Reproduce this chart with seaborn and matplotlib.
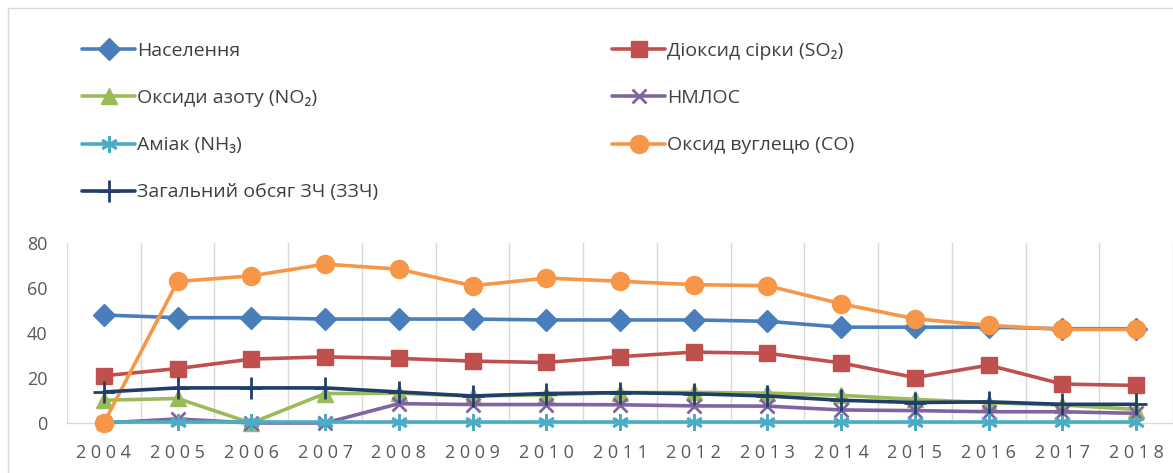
import matplotlib
matplotlib.use("Agg")
import matplotlib.pyplot as plt
from matplotlib.lines import Line2D
from matplotlib.patches import Rectangle
import seaborn as sns
import numpy as np

sns.set_theme(style="white")
plt.rcParams['font.family'] = ['Open Sans', 'DejaVu Sans']

years = ["2004", "2005", "2006", "2007", "2008", "2009", "2010", "2011",
         "2012", "2013", "2014", "2015", "2016", "2017", "2018"]

naselennia = [48.0, 46.8, 46.8, 46.2, 46.2, 46.2, 45.8, 45.8, 45.8, 45.2, 42.6, 42.6, 42.6, 41.9, 41.9]
so2 = [21.0, 24.2, 28.4, 29.4, 28.7, 27.5, 26.9, 29.5, 31.5, 31.0, 26.7, 20.2, 25.7, 17.3, 16.7]
no2 = [10.1, 10.9, 0.0, 13.1, 13.2, 12.0, 12.5, 13.5, 13.6, 13.3, 12.3, 10.5, 9.0, 8.0, 6.0]
nmlos = [0.0, 1.8, 0.0, 0.0, 8.6, 8.2, 8.2, 8.1, 7.6, 7.5, 5.8, 5.5, 5.0, 5.0, 4.3]
nh3 = [0.4, 0.4, 0.4, 0.4, 0.4, 0.4, 0.4, 0.4, 0.4, 0.4, 0.4, 0.4, 0.4, 0.4, 0.4]
co = [0.0, 62.9, 65.4, 70.6, 68.4, 61.0, 64.4, 63.0, 61.5, 61.0, 53.0, 46.3, 43.4, 41.6, 41.6]
total = [13.8, 15.6, 15.6, 15.6, 13.8, 12.0, 13.1, 13.5, 13.0, 12.0, 10.1, 9.1, 9.4, 8.3, 8.3]

labels = ["Населення", "Діоксид сірки (SO₂)", "Оксиди азоту (NO₂)", "НМЛОС",
          "Аміак (NH₃)", "Оксид вуглецю (CO)", "Загальний обсяг ЗЧ (ЗЗЧ)"]
series = [naselennia, so2, no2, nmlos, nh3, co, total]
colors = ["#4A7EBB", "#C0504D", "#9BBB59", "#8064A2", "#4BACC6", "#F79646", "#1F3F6A"]
markers = ["D", "s", "^", "x", (6, 2, 0), "o", "+"]
msizes = [11, 12, 11, 10, 12, 13, 16]
mews = [1, 1, 1, 2, 2, 1, 2]

W, H = 1173, 473
fig = plt.figure(figsize=(W / 100, H / 100), dpi=100)
fig.patch.set_facecolor("white")
ax = fig.add_axes([67 / W, (H - 423) / H, 1 - 67 / W, 180 / H])

x = np.arange(len(years))
for vals, lab, c, m, ms, mew in zip(series, labels, colors, markers, msizes, mews):
    sns.lineplot(x=x, y=vals, ax=ax, color=c, linewidth=2.6, marker=m,
                 markersize=ms, markeredgewidth=mew, markeredgecolor=c,
                 legend=False, clip_on=False, zorder=3)

ax.set_xlim(-0.5, 14.37)
ax.set_ylim(0, 80)
ax.set_yticks([0, 20, 40, 60, 80])
ax.set_yticklabels(["0", "20", "40", "60", "80"], fontsize=13, color="#595959")
ax.set_xticks(x)
ax.set_xticklabels([" ".join(y) for y in years], fontsize=13, color="#595959")
ax.set_xticks(np.arange(-0.5, 15, 1), minor=True)
ax.tick_params(axis="x", which="both", length=0, pad=15)
ax.tick_params(axis="y", length=0, pad=14)
ax.grid(False)
ax.grid(True, axis="x", which="minor", color="#D9D9D9", linewidth=1)
for s in ["top", "right", "left"]:
    ax.spines[s].set_visible(False)
ax.spines["bottom"].set_color("#D9D9D9")
ax.spines["bottom"].set_linewidth(1)
ax.set_xlabel("")
ax.set_ylabel("")

def handle(i):
    return Line2D([], [], color=colors[i], linewidth=2.6, marker=markers[i],
                  markersize=msizes[i], markeredgewidth=mews[i], markeredgecolor=colors[i])

left_idx = [0, 2, 4, 6]
right_idx = [1, 3, 5]
common = dict(loc="upper left", frameon=False, borderpad=0, borderaxespad=0,
              handlelength=2.73, handletextpad=0.1, labelspacing=1.5,
              prop={"size": 14}, labelcolor="#404040")
leg1 = fig.legend([handle(i) for i in left_idx], [labels[i] for i in left_idx],
                  bbox_to_anchor=(82 / W, 1 - 42 / H), **common)
leg2 = fig.legend([handle(i) for i in right_idx], [labels[i] for i in right_idx],
                  bbox_to_anchor=(612 / W, 1 - 42 / H), **common)

fig.patches.append(Rectangle((8 / W, -0.01), 1.1, 1 - 8 / H + 0.01, transform=fig.transFigure,
                             fill=False, edgecolor="#D9D9D9", linewidth=1))

fig.savefig("out.png", dpi=100)
